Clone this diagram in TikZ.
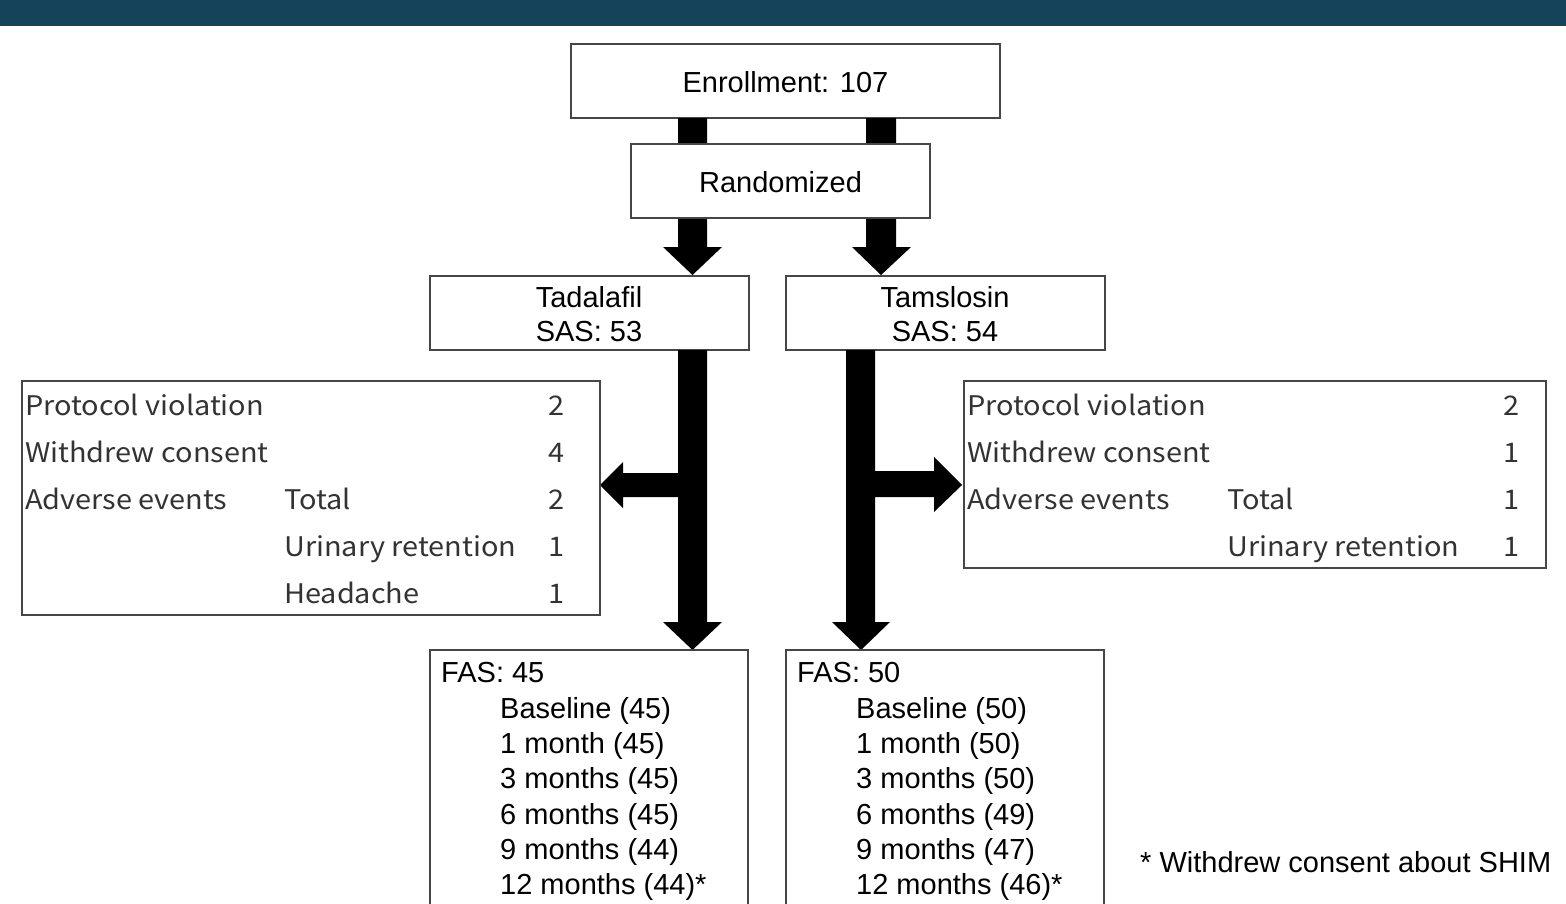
\documentclass[tikz,border=0pt]{standalone}
\usepackage{fontspec}
\setmainfont{Liberation Sans}
\newfontfamily\jpfont[FakeStretch=1.07]{Noto Sans CJK JP}
\definecolor{topbar}{RGB}{21,67,90}
\definecolor{boxline}{RGB}{70,70,70}
\begin{document}
\begin{tikzpicture}[x=1pt,y=-1pt,
  box/.style={draw=boxline, line width=1.5pt, fill=white, inner sep=0pt},
  main/.style={font=\fontsize{29}{34}\selectfont, inner sep=0pt},
  jp/.style={font=\jpfont\fontsize{27}{32}\selectfont, text=black!80, inner sep=0pt},
  blockarrow/.style={fill=black}]
\useasboundingbox (0,0) rectangle (1566,903);
\clip (0,0) rectangle (1566,903);
\fill[white] (0,0) rectangle (1566,903);
\fill[topbar] (0,0) rectangle (1566,26);

% boxes (top)
\node[box, minimum width=429pt, minimum height=74pt] (enr) at (785.5,81) {};
% arrows Enrollment -> groups
\fill[blockarrow] (678,118) -- (707,118) -- (707,247) -- (722,247) -- (692.5,275) -- (663,247) -- (678,247) -- cycle;
\fill[blockarrow] (866,118) -- (896,118) -- (896,247) -- (911,247) -- (881,275) -- (852,247) -- (866,247) -- cycle;
\node[box, minimum width=299pt, minimum height=74pt] (rand) at (780.5,181) {};
\node[box, minimum width=319pt, minimum height=74pt] (tad) at (589.5,313) {};
\node[box, minimum width=319pt, minimum height=74pt] (tam) at (945.5,313) {};

% arrows groups -> FAS and dropouts
\fill[blockarrow] (678,350) -- (707,350) -- (707,622) -- (722,622) -- (692.5,650) -- (663,622) -- (678,622) -- (678,497) -- (623,497) -- (623,508) -- (600,485) -- (623,462) -- (623,473) -- (678,473) -- cycle;
\fill[blockarrow] (846,350) -- (875,350) -- (875,471) -- (934,471) -- (934,457) -- (962,485) -- (934,512) -- (934,497) -- (875,497) -- (875,622) -- (890,622) -- (861,650) -- (832,622) -- (846,622) -- cycle;

% dropout boxes
\node[box, minimum width=578pt, minimum height=234pt] (dropL) at (311,498) {};
\node[box, minimum width=582pt, minimum height=187pt] (dropR) at (1255,474.5) {};

% FAS boxes (cut at bottom)
\node[box, minimum width=318pt, minimum height=280pt] (fasL) at (589,790) {};
\node[box, minimum width=318pt, minimum height=280pt] (fasR) at (945,790) {};

% texts
\node[main, anchor=base] (tEnr) at (785.5,92) {Enrollment: 107};
\node[main, anchor=base] (tRand) at (780.5,192) {Randomized};
\node[main, anchor=base] (tTad1) at (589,307) {Tadalafil};
\node[main, anchor=base] (tTad2) at (589,341) {SAS: 53};
\node[main, anchor=base] (tTam1) at (945,307) {Tamslosin};
\node[main, anchor=base] (tTam2) at (945,341) {SAS: 54};

% left dropout text
\node[jp, anchor=base west] (l1) at (25,415) {Protocol violation};
\node[jp, anchor=base] (l1n) at (557,415) {2};
\node[jp, anchor=base west] (l2) at (25,462) {Withdrew consent};
\node[jp, anchor=base] (l2n) at (557,462) {4};
\node[jp, anchor=base west] (l3) at (25,509) {Adverse events};
\node[jp, anchor=base west] (l3b) at (284,509) {Total};
\node[jp, anchor=base] (l3n) at (557,509) {2};
\node[jp, anchor=base west] (l4b) at (284,556) {Urinary retention};
\node[jp, anchor=base] (l4n) at (557,556) {1};
\node[jp, anchor=base west] (l5b) at (284,603) {Headache};
\node[jp, anchor=base] (l5n) at (557,603) {1};

% right dropout text
\node[jp, anchor=base west] (r1) at (967,415) {Protocol violation};
\node[jp, anchor=base] (r1n) at (1511,415) {2};
\node[jp, anchor=base west] (r2) at (967,462) {Withdrew consent};
\node[jp, anchor=base] (r2n) at (1511,462) {1};
\node[jp, anchor=base west] (r3) at (967,509) {Adverse events};
\node[jp, anchor=base west] (r3b) at (1227,509) {Total};
\node[jp, anchor=base] (r3n) at (1511,509) {1};
\node[jp, anchor=base west] (r4b) at (1227,556) {Urinary retention};
\node[jp, anchor=base] (r4n) at (1511,556) {1};

% FAS texts
\node[main, anchor=base west] (fl0) at (441,682) {FAS: 45};
\node[main, anchor=base west] (fl1) at (500,718) {Baseline (45)};
\node[main, anchor=base west] (fl2) at (500,753) {1 month (45)};
\node[main, anchor=base west] (fl3) at (500,788) {3 months (45)};
\node[main, anchor=base west] (fl4) at (500,824) {6 months (45)};
\node[main, anchor=base west] (fl5) at (500,859) {9 months (44)};
\node[main, anchor=base west] (fl6) at (500,894) {12 months (44)*};

\node[main, anchor=base west] (fr0) at (797,682) {FAS: 50};
\node[main, anchor=base west] (fr1) at (856,718) {Baseline (50)};
\node[main, anchor=base west] (fr2) at (856,753) {1 month (50)};
\node[main, anchor=base west] (fr3) at (856,788) {3 months (50)};
\node[main, anchor=base west] (fr4) at (856,824) {6 months (49)};
\node[main, anchor=base west] (fr5) at (856,859) {9 months (47)};
\node[main, anchor=base west] (fr6) at (856,894) {12 months (46)*};

\node[main, anchor=base west] (foot) at (1140,872) {* Withdrew consent about SHIM};
\end{tikzpicture}
\end{document}
